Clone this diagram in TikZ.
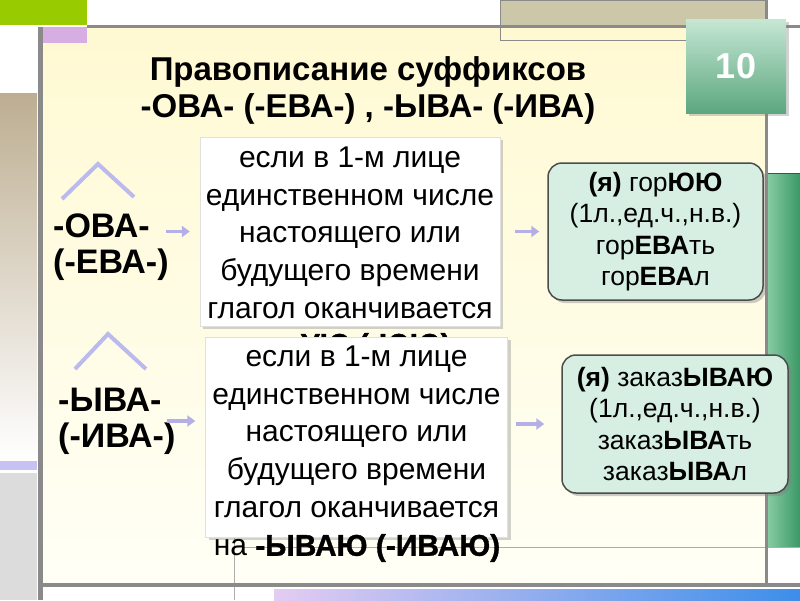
\documentclass[tikz,border=0pt]{standalone}
\usepackage{fontspec}
\setmainfont{Liberation Sans}
\usetikzlibrary{positioning}
\usetikzlibrary{shadows}
\usetikzlibrary{arrows.meta}
\definecolor{grnc}{HTML}{99CC00}
\definecolor{lilac}{HTML}{D6AEE4}
\definecolor{tanc}{HTML}{CDC7A9}
\definecolor{tanl}{HTML}{BDAE92}
\definecolor{lavs}{HTML}{C8C2F2}
\definecolor{lgray}{HTML}{DCDCDC}
\definecolor{linec}{HTML}{8A8A8A}
\definecolor{panelt}{HTML}{FFF9D2}
\definecolor{panelb}{HTML}{FFFFF6}
\definecolor{numt}{HTML}{C6E7D4}
\definecolor{numb}{HTML}{5CA77F}
\definecolor{bart}{HTML}{86CAA2}
\definecolor{barb}{HTML}{3A9866}
\definecolor{mint}{HTML}{D6EFE2}
\definecolor{arrc}{HTML}{B4AFE6}
\definecolor{chevc}{HTML}{BABAEE}
\definecolor{stripl}{HTML}{E4CCF2}
\definecolor{stripr}{HTML}{3C8EEA}
\newcommand{\afont}{\fontsize{30}{37.6}\selectfont}
\newcommand{\heavy}[1]{{\bfseries\addfontfeature{FakeBold=1.2}#1}}

\begin{document}
\begin{tikzpicture}[x=1pt,y=-1pt,
    abox/.style={fill=white,draw=black!12,minimum width=300pt,minimum height=189pt,
        drop shadow={opacity=.35,shadow xshift=3pt,shadow yshift=-3pt}},
    atext/.style={align=center,inner sep=0pt,font=\afont},
    bbox/.style={fill=mint,draw=black!70,line width=1.5pt,rounded corners=14pt,
        minimum width=215pt,minimum height=137pt,align=center,
        font=\fontsize{26.5}{31.5}\selectfont,
        drop shadow={opacity=.4,shadow xshift=3pt,shadow yshift=-3pt}},
    lbl/.style={align=left,anchor=west,inner sep=3pt,font=\fontsize{34}{36}\selectfont\bfseries}]
\useasboundingbox (0,0) rectangle (800,600);

% frame of the slide
\fill[white] (0,0) rectangle (800,600);
\fill[grnc] (0,0) rectangle (87,25);
\fill[tanc] (500,0) rectangle (765,25);
\fill[white] (0,27) rectangle (37,93);
\shade[top color=tanl,bottom color=white] (0,93) rectangle (37,461);
\fill[lavs] (0,461) rectangle (37,470);
\fill[lgray] (0,473) rectangle (37,600);
\shade[top color=panelt,bottom color=panelb] (43,28) rectangle (765,585);
\fill[lilac] (43,27) rectangle (87,43);
\draw[linec] (500,0) rectangle (765,40);
\draw[linec] (500,25) -- (765,25);
\shade[left color=bart,right color=barb] (768,173) rectangle (800,547);
\draw[black!70] (768,173) -- (800,173);
\draw[linec!70] (234,547) -- (800,547);
\draw[linec!70] (234,537) -- (234,600);
\shade[left color=stripl,right color=stripr] (274,589) rectangle (800,600);
\draw[linec,line width=3pt] (87,26) -- (800,26);
\draw[linec,line width=5pt] (40,27) -- (40,600);
\draw[linec,line width=3pt] (766.5,0) -- (766.5,586);
\draw[linec,line width=4pt] (43,585) -- (800,585);

% title and number
\node[align=center,font=\fontsize{33}{37}\selectfont\bfseries] (title) at (368,90)
    {Правописание суффиксов\\-ОВА- (-ЕВА-) , -ЫВА- (-ИВА)};
\node[minimum width=100pt,minimum height=94pt,top color=numt,bottom color=numb,
    drop shadow={opacity=.35,shadow xshift=3pt,shadow yshift=-3pt},
    text=white,font=\fontsize{36}{36}\selectfont\bfseries] (num) at (736,66) {10};

% chevrons
\draw[chevc,line width=4pt] (62,199) -- (98,164) -- (134,197);
\draw[chevc,line width=4pt] (75,369) -- (108,334) -- (146,369);

% suffixes
\node[lbl] (l1) at (50,247) {-ОВА-\\(-ЕВА-)};
\node[lbl] (l2) at (55,421) {-ЫВА-\\(-ИВА-)};

% rules
\node[abox] (a1) at (350,231.5) {};
\node[atext,anchor=north] (a1t) at ([yshift=-10pt]a1.north)
    {если в 1-м лице\\единственном числе\\настоящего или\\будущего времени\\глагол оканчивается};
\node[atext] (a1x) at (350,347) {на \heavy{-УЮ (-ЮЮ)}};

\node[abox,minimum width=302pt,minimum height=200pt] (a2) at (356.5,437) {};
\node[atext,anchor=north] (a2t) at ([yshift=-9pt]a2.north)
    {если в 1-м лице\\единственном числе\\настоящего или\\будущего времени\\глагол оканчивается};
\node[atext] (a2x) at (357,548) {на \heavy{-ЫВАЮ (-ИВАЮ)}};

% examples
\node[bbox] (b1) at (655.5,231.5)
    {\textbf{(я)} гор\textbf{ЮЮ}\\(1л.,ед.ч.,н.в.)\\гор\textbf{ЕВА}ть\\гор\textbf{ЕВА}л};
\node[bbox,minimum width=226pt,minimum height=138pt] (b2) at (675,424)
    {\textbf{(я)} заказ\textbf{ЫВАЮ}\\(1л.,ед.ч.,н.в.)\\заказ\textbf{ЫВА}ть\\заказ\textbf{ЫВА}л};

\begin{scope}[>={Triangle[length=8pt,width=11pt]},
    every edge/.style={draw=arrc,line width=3.5pt}]
    \path [->] ([xshift=-6pt]l1.east |- a1.west) edge[shorten >=10pt] (a1.west);
    \path [->] (a1.east) edge[shorten <=15pt,shorten >=8pt] (b1.west);
    \path [->] ([xshift=-12pt]l2.east) edge[shorten >=10pt] (l2.east -| a2.west);
    \path [->] (a2.east |- b2.west) edge[shorten <=8pt,shorten >=17pt] (b2.west);
\end{scope}
\end{tikzpicture}
\end{document}
